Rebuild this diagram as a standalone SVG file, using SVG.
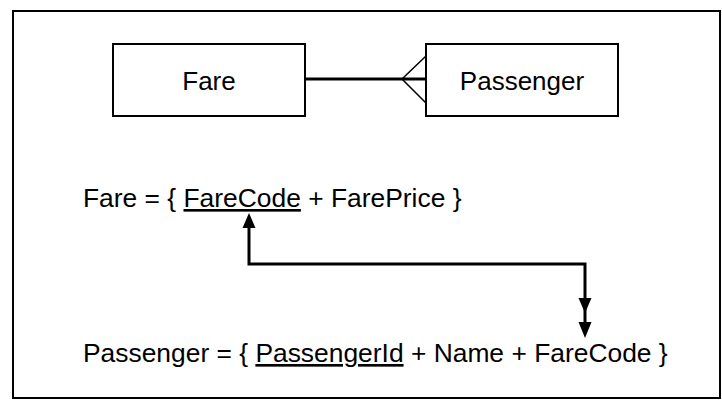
<svg xmlns="http://www.w3.org/2000/svg" width="722" height="400" viewBox="0 0 722 400">
<style>
.box{fill:#fff;stroke:#000;stroke-width:2}
.lbl{font-family:"Liberation Sans",Arial,sans-serif;font-size:26px;fill:#000}
.def{font-size:26.4px}
.conn{fill:none;stroke:#000;stroke-width:3}
.thin{fill:none;stroke:#000;stroke-width:1.5}
.head{fill:#000;stroke:none}
</style>
<rect x="0" y="0" width="722" height="400" fill="#fff"/>
<rect x="13" y="11" width="707" height="387" fill="none" stroke="#000" stroke-width="2"/>
<g id="fare">
<rect class="box" x="113" y="44" width="192" height="72"/>
<text class="lbl" x="209" y="90" text-anchor="middle">Fare</text>
</g>
<g id="passenger">
<rect class="box" x="426" y="44" width="192" height="72"/>
<text class="lbl" x="522" y="90" text-anchor="middle">Passenger</text>
</g>
<g id="fare-def">
<text class="lbl def" x="83" y="207" xml:space="preserve">Fare = { <tspan text-decoration="underline">FareCode</tspan> + FarePrice }</text>
</g>
<g id="passenger-def">
<text class="lbl def" x="83" y="362" xml:space="preserve">Passenger = { <tspan text-decoration="underline">PassengerId</tspan> + Name + FareCode }</text>
</g>
<g id="connectors">
<line x1="305" y1="79" x2="426" y2="79" stroke="#000" stroke-width="3"/>
<path class="thin" d="M426,56 L402,79 L426,103"/>
<path class="conn" d="M249,226 V264 H585 V324"/>
<polygon class="head" points="249,213 242.5,228 255.5,228"/>
<polygon class="head" points="578.5,298 591.5,298 585,313"/>
<polygon class="head" points="578.5,322 591.5,322 585,338"/>
</g>
</svg>
